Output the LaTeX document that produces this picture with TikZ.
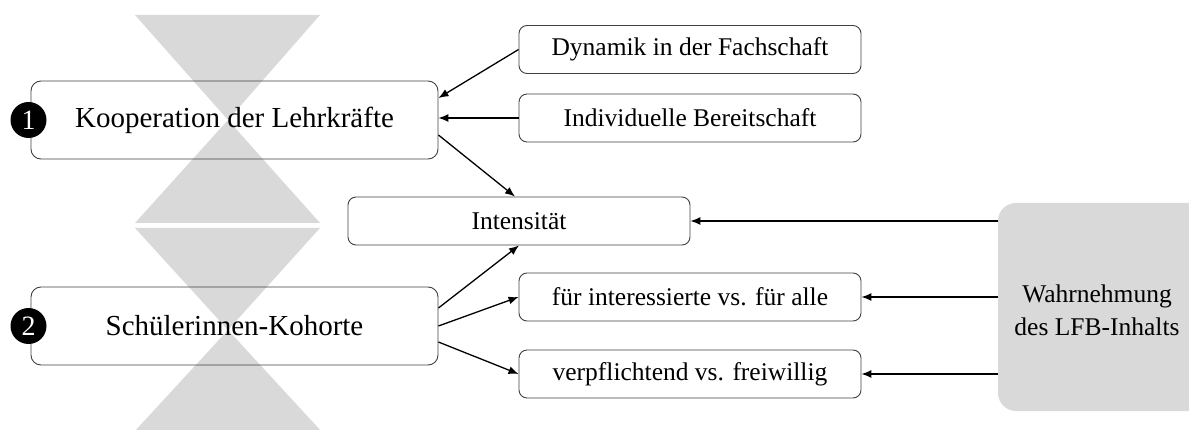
\documentclass[tikz,border=0pt]{standalone}
\usepackage{fontspec}
\setmainfont{Liberation Serif}
\usetikzlibrary{arrows.meta,calc}
\definecolor{shade}{HTML}{D9D9D9}
\definecolor{frame}{HTML}{404040}
\tikzset{
  bigbox/.style={draw=frame, line width=0.9pt, rounded corners=10pt,
    minimum width=407pt, minimum height=78pt, inner sep=0pt,
    font=\fontsize{29}{34}\selectfont},
  smallbox/.style={draw=frame, line width=0.9pt, rounded corners=8pt,
    minimum width=342pt, minimum height=48pt, inner sep=0pt,
    font=\fontsize{25.5}{30}\selectfont},
  badge/.style={circle, fill=black, minimum size=36pt, inner sep=0pt,
    text=white, font=\fontsize{28}{30}\selectfont},
  sidebox/.style={fill=shade, rounded corners=18pt, inner sep=0pt},
  link/.style={line width=1.3pt, -{Latex[length=10pt,width=8pt]}},
  hourglass/.style={fill=shade, draw=none}
}
\begin{document}
\begin{tikzpicture}[x=1pt, y=-1pt]
  \useasboundingbox (0,0) rectangle (1189,430);

  % grey hourglass shapes in the background
  \path[hourglass] (135,15) -- (320,15) -- (228,120) -- cycle;
  \path[hourglass] (228,120) -- (320,223) -- (135,223) -- cycle;
  \path[hourglass] (135,228) -- (320,228) -- (228,330) -- cycle;
  \path[hourglass] (228,330) -- (322,432) -- (134,432) -- cycle;

  % main factors
  \node[bigbox] (koop) at (234.5,120) {Kooperation der Lehrkräfte};
  \node[bigbox] (kohorte) at (234.5,326) {Schülerinnen-Kohorte};
  \node[badge] (b1) at (28.5,120) {1};
  \node[badge] (b2) at (28.5,326) {2};

  % influencing aspects
  \node[smallbox] (dyn) at (690,49.5) {Dynamik in der Fachschaft};
  \node[smallbox] (indiv) at (690,118) {Individuelle Bereitschaft};
  \node[smallbox] (intens) at (519,221) {Intensität};
  \node[smallbox] (fuer) at (690,297) {für interessierte vs. für alle};
  \node[smallbox] (verpf) at (690,374) {verpflichtend vs. freiwillig};

  % perception box on the right
  \path[sidebox] (998,203) rectangle (1215,411);
  \node[inner sep=0pt, align=center, font=\fontsize{25.5}{33}\selectfont]
    (wahr) at (1097,310) {Wahrnehmung\\des LFB-Inhalts};
  \coordinate (wahrw) at (998,310);

  % connectors
  \draw[link] (dyn.west) -- ($(koop.east)+(0,-22)$);
  \draw[link] (indiv.west) -- (indiv.west -| koop.east);
  \draw[link] ($(koop.east)+(0,15)$) -- ($(intens.north)+(-4,0)$);
  \draw[link] ($(kohorte.east)+(0,-18)$) -- (intens.south);
  \draw[link] (kohorte.east) -- (fuer.west);
  \draw[link] ($(kohorte.east)+(0,16)$) -- (verpf.west);
  \draw[link] (intens.east -| wahrw) -- (intens.east);
  \draw[link] (fuer.east -| wahrw) -- (fuer.east);
  \draw[link] (verpf.east -| wahrw) -- (verpf.east);
\end{tikzpicture}
\end{document}
